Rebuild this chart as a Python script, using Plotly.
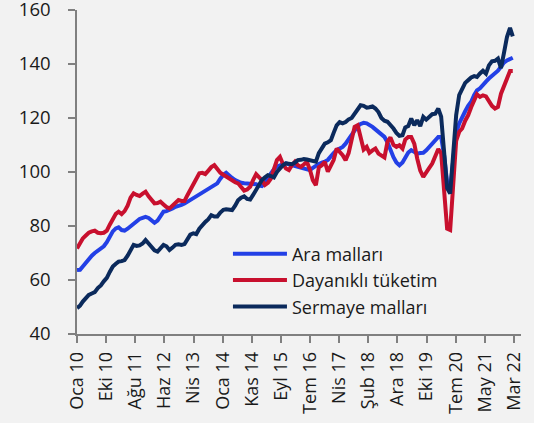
import datetime as dt
import plotly.graph_objects as go

# ---- data (monthly, Jan 2010 - Mar 2022) ----
start_year, start_month, n_months = 2010, 1, 147
dates = [dt.date(start_year + (start_month - 1 + i) // 12, (start_month - 1 + i) % 12 + 1, 1) for i in range(n_months)]

ara_mallari = [
    63.7, 63.8, 65.0, 66.5, 68.0, 69.0, 70.0, 70.8, 71.5, 72.5, 74.0, 76.0,
    78.0, 79.1, 79.5, 78.5, 78.3, 79.0, 80.0, 81.0, 82.0, 82.6, 83.0, 83.4,
    83.0, 82.2, 81.2, 82.0, 84.0, 85.3, 85.5, 85.9, 86.5, 87.1, 87.3, 87.8,
    88.3, 89.0, 89.7, 90.2, 90.8, 91.5, 92.1, 92.8, 93.5, 94.3, 95.0, 95.8,
    97.5, 99.0, 99.7, 98.5, 97.8, 97.0, 96.4, 96.0, 95.8, 95.8, 95.6, 95.8,
    95.5, 95.0, 94.8, 96.0, 98.0, 99.5, 101.0, 102.0, 102.5, 103.0, 103.2, 102.8,
    102.5, 102.2, 102.0, 101.9, 101.5, 101.0, 100.7, 101.5, 102.5, 103.0, 103.5, 103.8,
    104.5, 106.0, 107.0, 108.1, 108.8, 109.3, 110.5, 112.0, 113.6, 115.5, 117.0, 117.8,
    118.2, 118.0, 117.5, 116.7, 115.8, 115.0, 114.0, 113.0, 111.0, 108.1, 105.5, 103.5,
    102.5, 103.5, 105.5, 107.2, 108.1, 107.5, 106.8, 107.0, 107.1, 108.0, 109.2, 110.5,
    111.5, 113.0, 113.0, 106.0, 96.0, 93.0, 104.0, 114.5, 118.0, 120.5, 122.5, 124.5,
    126.0, 128.5, 130.2, 131.0, 132.5, 133.5, 134.6, 135.5, 136.4, 137.5, 139.0, 140.5,
    141.3, 142.0, 142.3,
]

dayanikli_tuketim = [
    71.7, 73.5, 75.4, 76.5, 77.5, 78.0, 78.3, 77.5, 77.3, 77.5, 78.3, 80.5,
    82.5, 84.5, 85.3, 84.4, 85.5, 87.5, 90.5, 92.1, 91.5, 91.1, 92.0, 92.7,
    91.0, 89.5, 88.4, 88.5, 89.0, 88.0, 87.0, 86.5, 87.5, 88.5, 89.6, 89.3,
    89.3, 91.5, 93.5, 95.2, 97.5, 99.5, 99.7, 99.2, 100.5, 101.8, 102.5, 101.0,
    99.7, 99.0, 98.3, 97.9, 97.0, 96.2, 95.8, 94.5, 93.1, 93.5, 94.5, 97.0,
    99.2, 98.0, 97.0, 95.2, 96.0, 97.6, 101.0, 104.4, 105.6, 103.0, 101.3, 100.7,
    102.5, 103.8, 102.5, 101.9, 102.8, 103.8, 101.0, 97.0, 95.1, 101.7, 102.5, 103.8,
    100.1, 102.5, 104.4, 108.7, 107.5, 106.2, 104.4, 107.0, 112.0, 116.7, 117.3, 112.0,
    108.3, 109.3, 107.1, 108.0, 108.7, 106.8, 106.0, 105.4, 111.2, 112.8, 110.0, 109.3,
    109.9, 108.7, 112.0, 113.0, 113.0, 110.5, 105.0, 100.5, 98.2, 100.1, 101.5, 103.1,
    106.0, 108.5, 107.0, 93.0, 79.0, 78.5, 95.0, 111.5, 114.9, 116.1, 119.0, 121.0,
    124.0, 126.5, 128.8, 127.8, 128.4, 128.0, 125.9, 124.5, 123.5, 124.1, 129.0, 132.0,
    134.6, 137.4, 137.4,
]

sermaye_mallari = [
    49.6, 50.5, 52.0, 53.5, 54.5, 55.0, 55.5, 57.0, 58.0, 59.5, 60.8, 63.0,
    65.0, 66.0, 66.8, 67.0, 67.4, 69.0, 71.0, 73.0, 72.6, 72.8, 73.5, 74.8,
    73.5, 72.3, 71.0, 70.5, 72.0, 73.0, 72.5, 71.1, 72.0, 73.0, 73.2, 73.0,
    73.3, 75.5, 76.8, 77.3, 77.0, 79.0, 80.4, 81.5, 82.5, 84.0, 83.5, 83.5,
    85.0, 86.0, 86.2, 86.0, 85.9, 87.5, 89.5, 90.5, 91.0, 90.0, 89.8, 91.5,
    93.5, 95.5, 97.0, 98.0, 98.8, 98.5, 98.0, 100.0, 101.3, 102.5, 103.2, 103.2,
    102.9, 103.5, 104.4, 104.5, 104.8, 104.6, 104.4, 104.0, 103.8, 107.0, 109.0, 110.5,
    111.0, 111.8, 114.5, 117.3, 118.5, 118.0, 118.5, 119.5, 120.0, 121.5, 123.0, 124.7,
    124.5, 123.8, 124.0, 124.3, 123.5, 122.2, 120.0, 119.0, 118.6, 117.5, 116.1, 114.5,
    113.4, 113.6, 116.5, 117.0, 119.8, 117.3, 119.2, 117.0, 120.4, 119.4, 120.4, 121.4,
    121.6, 123.5, 120.5, 108.0, 94.0, 92.0, 106.0, 121.0, 128.5, 131.0, 133.0, 134.0,
    135.0, 135.5, 135.2, 136.5, 137.5, 136.4, 139.5, 141.0, 141.2, 142.0, 138.5, 144.0,
    150.0, 153.4, 150.2,
]

series_names = ["Ara malları", "Dayanıklı tüketim", "Sermaye malları"]
series_colors = ["#2340e6", "#c8102e", "#0b2a5c"]

tick_labels = ["Oca 10", "Eki 10", "Ağu 11", "Haz 12", "Nis 13", "Oca 14", "Kas 14",
               "Eyl 15", "Tem 16", "Nis 17", "Şub 18", "Ara 18", "Eki 19", "Tem 20",
               "May 21", "Mar 22"]
tick_step_days = 297
tick_dates = [dt.date(2010, 1, 1) + dt.timedelta(days=tick_step_days * k) for k in range(len(tick_labels))]

y_ticks = [40, 60, 80, 100, 120, 140, 160]

# ---- figure ----
fig = go.Figure()
for name, vals, col in zip(series_names, [ara_mallari, dayanikli_tuketim, sermaye_mallari], series_colors):
    fig.add_trace(go.Scatter(x=dates, y=vals, mode="lines", name=name,
                             line=dict(color=col, width=4)))

font_family = "Open Sans, Noto Sans, DejaVu Sans, sans-serif"
fig.update_layout(
    width=534, height=423,
    margin=dict(l=77, r=13, t=10, b=89, autoexpand=False),
    paper_bgcolor="#f2f2f2", plot_bgcolor="#f2f2f2",
    font=dict(family=font_family, size=19, color="#1a1a1a"),
    showlegend=True,
    legend=dict(x=0.34, y=0.304, xanchor="left", yanchor="top",
                bgcolor="rgba(0,0,0,0)", font=dict(size=18, color="#1a1a1a"),
                itemwidth=54, tracegroupgap=0),
)
fig.update_xaxes(
    type="date", range=[dt.date(2010, 1, 1), dt.date(2022, 5, 24)],
    tickmode="array", tickvals=tick_dates, ticktext=tick_labels, tickangle=-90,
    showgrid=False, zeroline=False, automargin=False,
    showline=True, linecolor="#808080", linewidth=1.5,
    ticks="outside", ticklen=7, tickcolor="#808080", tickwidth=1.5,
    tickfont=dict(size=18, color="#1a1a1a"), ticklabelstandoff=2,
    ticklabeloverflow="allow",
)
fig.update_yaxes(
    range=[40, 160], tickmode="array", tickvals=y_ticks,
    showgrid=False, zeroline=False, automargin=False,
    showline=True, linecolor="#808080", linewidth=1.5,
    ticks="outside", ticklen=7, tickcolor="#808080", tickwidth=1.5,
    tickfont=dict(size=18.5, color="#1a1a1a"), ticklabelstandoff=14,
    ticklabeloverflow="allow",
)

page_style = "document.body.style.margin='0';document.body.style.background='#f2f2f2';document.body.style.overflow='hidden';"
fig.write_html("out.html", post_script=page_style, config={"displayModeBar": False})
